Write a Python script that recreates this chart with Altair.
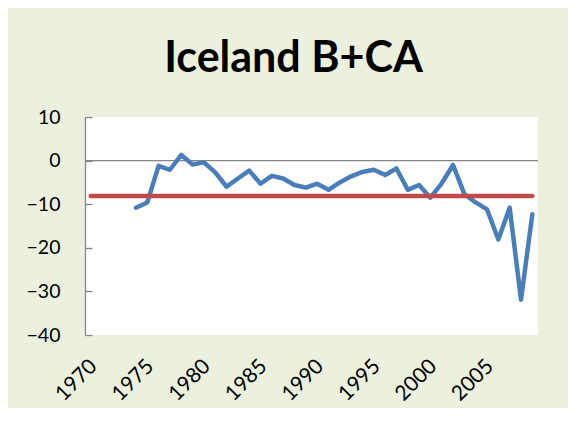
import altair as alt
import pandas as pd

# ---- data ----
years = [1974, 1975, 1976, 1977, 1978, 1979, 1980, 1981, 1982, 1983, 1984, 1985,
         1986, 1987, 1988, 1989, 1990, 1991, 1992, 1993, 1994, 1995, 1996, 1997,
         1998, 1999, 2000, 2001, 2002, 2003, 2004, 2005, 2006, 2007, 2008, 2009]
balance = [-10.8, -9.6, -1.2, -2.1, 1.3, -0.9, -0.4, -2.7, -6.0, -4.1, -2.3, -5.3,
           -3.5, -4.1, -5.6, -6.2, -5.3, -6.7, -5.0, -3.6, -2.6, -2.1, -3.3, -1.8,
           -6.7, -5.6, -8.5, -5.2, -1.0, -7.7, -9.6, -11.2, -18.1, -10.8, -31.9, -12.3]
avg_start = [1970]
avg_end = [2009]
avg_value = [-8.1]
zero_value = [0]
x_ticks = [1970, 1975, 1980, 1985, 1990, 1995, 2000, 2005]
y_ticks = [-40, -30, -20, -10, 0, 10]
x_domain = [1969.5, 2009.5]
y_domain = [-40, 10]

df = pd.DataFrame({"year": years, "value": balance})
avg_df = pd.DataFrame({"start": avg_start, "end": avg_end, "value": avg_value})
zero_df = pd.DataFrame({"value": zero_value})

BLUE = "#4A7EBB"
RED = "#BE4B48"
GREY = "#868686"
FONT = "Lato"
W, H = 453, 218

xscale = alt.Scale(domain=x_domain, nice=False, zero=False)
yscale = alt.Scale(domain=y_domain, nice=False, zero=False)

x_axis = alt.Axis(values=x_ticks, format="d", labelAngle=-45, labelAlign="right",
                  labelBaseline="top", domain=False, ticks=False, grid=False,
                  labelFont=FONT, labelFontSize=21, labelColor="black",
                  labelPadding=20, labelOffset=-5, title=None)
left_axis = alt.Axis(orient="left", values=y_ticks, domain=True, domainColor=GREY,
                     domainWidth=1.3, ticks=False, grid=False, labelFont=FONT,
                     labelFontSize=19.5, labelColor="black", labelPadding=25,
                     title=None)
tick_axis = alt.Axis(orient="right", offset=-W, values=y_ticks, labels=False,
                     domain=False, ticks=True, tickSize=7, tickColor=GREY,
                     tickWidth=1.3, grid=False, title=None)

zero = alt.Chart(zero_df).mark_rule(color=GREY, strokeWidth=1.3).encode(
    y=alt.Y("value:Q", scale=yscale, axis=None)
)
line = alt.Chart(df).mark_line(color=BLUE, strokeWidth=4.5, strokeCap="round",
                               strokeJoin="round").encode(
    x=alt.X("year:Q", scale=xscale, axis=x_axis),
    y=alt.Y("value:Q", scale=yscale, axis=left_axis),
)
avg = alt.Chart(avg_df).mark_rule(color=RED, strokeWidth=4.5, strokeCap="round").encode(
    x=alt.X("start:Q", scale=xscale),
    x2="end:Q",
    y=alt.Y("value:Q", scale=yscale, axis=None),
)
ticks = alt.Chart(df).mark_point(opacity=0).encode(
    x=alt.X("year:Q", scale=xscale),
    y=alt.Y("value:Q", scale=yscale, axis=tick_axis),
)

chart = alt.layer(zero, line, avg, ticks).resolve_axis(y="independent").properties(
    width=W,
    height=H,
    title=alt.TitleParams("Iceland B+CA", font=FONT, fontSize=43, fontWeight="bold",
                          color="black", anchor="middle", dx=-18, offset=26),
    autosize=alt.AutoSizeParams(type="none"),
    padding={"left": 77, "top": 109, "right": 30, "bottom": 73},
    background="#EBF1DE",
).configure_view(stroke=None, fill="white")

chart.save("out.html", embed_options={"renderer": "svg", "actions": False})
